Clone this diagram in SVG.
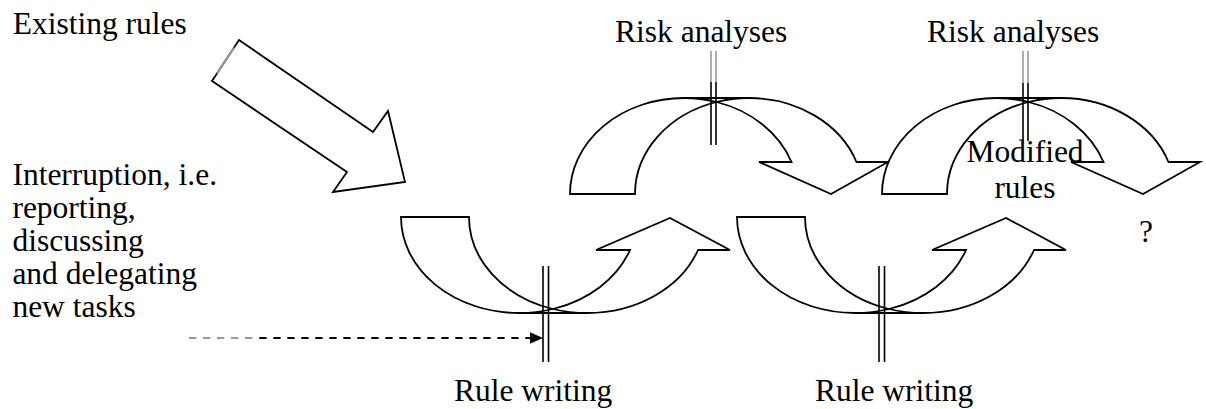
<svg xmlns="http://www.w3.org/2000/svg" width="1206" height="409" viewBox="0 0 1206 409">
<defs>
<style>
.shape{fill:#fff;stroke:#000;stroke-width:1.8;stroke-linejoin:miter}
.fold{fill:none;stroke:#000;stroke-width:1.8}
.dl{stroke:#000;stroke-width:1.6}
.dlg{stroke:#999;stroke-width:1.6}
.txt{font-family:"Liberation Serif","Times New Roman",serif;font-size:31.5px;fill:#000}
</style>
<g id="curvedUp">
<path class="shape" d="M0,0 A118,96 0 0 0 118,96 L186,96 A118,96 0 0 0 297,33 L329,33 L269,1 L195,33 L229,33 A118,96 0 0 1 152,92 A118,96 0 0 1 68,0 Z"/>
<path class="fold" d="M118,96 A118,96 0 0 0 152,92 A118,96 0 0 0 186,96"/>
</g>
<g id="curvedDown">
<path class="shape" d="M0,0 A114,96 0 0 1 114,-96 L179,-96 A114,96 0 0 1 286.5,-32 L318,-32 L261,0 L189,-32 L221.5,-32 A114,96 0 0 0 146.5,-92 A114,96 0 0 0 65,0 Z"/>
<path class="fold" d="M114,-96 A114,96 0 0 1 146.5,-92 A114,96 0 0 1 179,-96"/>
</g>
</defs>
<rect width="1206" height="409" fill="#fff"/>

<g id="existing-rules-arrow">
<polygon class="shape" points="239,40 212,81 347,172 333,192 405,182 388,111 373,132"/>
<line x1="234" y1="47.5" x2="217" y2="73.5" stroke="#999" stroke-width="2"/>
</g>

<g id="rule-writing-1"><use href="#curvedUp" x="401" y="217"/></g>
<g id="rule-writing-2"><use href="#curvedUp" x="737" y="217"/></g>
<g id="risk-analyses-1"><use href="#curvedDown" x="570" y="194"/></g>
<g id="risk-analyses-2"><use href="#curvedDown" x="882" y="194"/></g>

<g id="connectors">
<line class="dl" x1="543" y1="266" x2="543" y2="362"/>
<line class="dl" x1="548.5" y1="266" x2="548.5" y2="362"/>
<line class="dl" x1="879" y1="266" x2="879" y2="362"/>
<line class="dl" x1="884.5" y1="266" x2="884.5" y2="362"/>
<line class="dlg" x1="711" y1="51" x2="711" y2="82"/>
<line class="dlg" x1="716" y1="51" x2="716" y2="82"/>
<line class="dl" x1="711" y1="82" x2="711" y2="145"/>
<line class="dl" x1="716" y1="82" x2="716" y2="145"/>
<line class="dlg" x1="1023" y1="51" x2="1023" y2="83"/>
<line class="dlg" x1="1028" y1="51" x2="1028" y2="83"/>
<line class="dl" x1="1023" y1="83" x2="1023" y2="141"/>
<line class="dl" x1="1028" y1="83" x2="1028" y2="141"/>
<line x1="189" y1="338" x2="253" y2="338" stroke="#999" stroke-width="2" stroke-dasharray="7.3 6.7"/>
<line x1="259.3" y1="338" x2="531" y2="338" stroke="#000" stroke-width="2" stroke-dasharray="7.3 6.7"/>
<polygon points="543,338 530,332.3 530,343.7" fill="#000"/>
</g>

<g id="labels">
<text class="txt" x="12.7" y="34">Existing rules</text>
<text class="txt" x="615" y="42">Risk analyses</text>
<text class="txt" x="927" y="42">Risk analyses</text>
<text class="txt" x="12.4" y="185">Interruption, i.e.</text>
<text class="txt" x="12.4" y="218">reporting,</text>
<text class="txt" x="12.4" y="251">discussing</text>
<text class="txt" x="12.4" y="284">and delegating</text>
<text class="txt" x="12.4" y="317">new tasks</text>
<text class="txt" x="454" y="401">Rule writing</text>
<text class="txt" x="815" y="401">Rule writing</text>
<text class="txt" x="1025" y="162" text-anchor="middle">Modified</text>
<text class="txt" x="1025" y="198" text-anchor="middle">rules</text>
<text class="txt" x="1139" y="242">?</text>
</g>
</svg>
